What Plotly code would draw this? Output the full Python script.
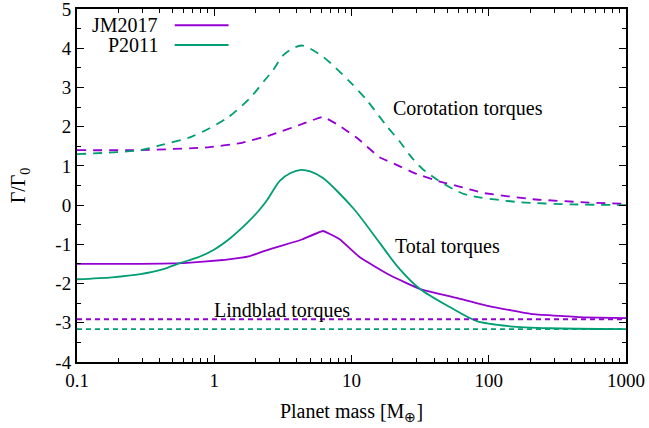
import numpy as np
import plotly.graph_objects as go

PURPLE = "#9400D3"
GREEN = "#009E73"
FONT = "Liberation Serif"

# Corotation torques (dashed)
jm_corot_m = [0.1, 0.29, 0.885, 1.54, 2.55, 4.4, 6.2, 8.2, 11.0, 16.0, 21.5, 30.0, 44.0, 60.0, 91.0, 210.0, 500.0, 1000.0]
jm_corot_g = [1.40, 1.40, 1.47, 1.58, 1.78, 2.07, 2.25, 2.02, 1.71, 1.22, 1.02, 0.79, 0.60, 0.48, 0.31, 0.15, 0.07, 0.03]

p_corot_m = [0.1, 0.29, 0.4, 0.70, 1.24, 1.82, 2.34, 2.68, 3.2, 4.3, 6.2, 9.75, 12.9, 18.3, 22.6, 26.5, 32.5, 42.4, 55.0, 69.5, 161.0, 400.0, 1000.0]
p_corot_g = [1.30, 1.40, 1.52, 1.76, 2.22, 2.73, 3.19, 3.44, 3.83, 4.07, 3.78, 3.14, 2.68, 1.99, 1.61, 1.28, 0.94, 0.64, 0.41, 0.26, 0.08, 0.02, 0.0]

# Total torques (solid)
jm_total_m = [0.1, 0.29, 0.6, 1.16, 1.82, 2.55, 3.2, 4.4, 6.2, 8.2, 11.5, 19.1, 31.6, 59.0, 102.0, 210.0, 500.0, 1000.0]
jm_total_g = [-1.50, -1.50, -1.48, -1.40, -1.30, -1.12, -1.02, -0.87, -0.66, -0.87, -1.33, -1.79, -2.14, -2.37, -2.58, -2.78, -2.86, -2.88]

p_total_m = [0.1, 0.18, 0.29, 0.42, 0.56, 0.75, 0.98, 1.3, 1.73, 2.1, 2.43, 3.0, 3.6, 4.3, 5.0, 6.2, 10.3, 16.1, 21.8, 31.6, 52.0, 82.0, 143.0, 279.0, 1000.0]
p_total_g = [-1.89, -1.84, -1.76, -1.64, -1.48, -1.34, -1.15, -0.85, -0.46, -0.15, 0.13, 0.62, 0.82, 0.90, 0.86, 0.69, -0.08, -0.97, -1.58, -2.14, -2.60, -2.96, -3.09, -3.14, -3.16]

# Lindblad torques (dotted)
lind_m = [0.1, 1000.0]
jm_lind_g = [-2.91, -2.91]
p_lind_g = [-3.16, -3.16]

x_tickvals = [0.1, 1, 10, 100, 1000]
x_ticktext = ["0.1", "1", "10", "100", "1000"]
y_tickvals = [5, 4, 3, 2, 1, 0, -1, -2, -3, -4]
y_ticktext = ["5", "4", "3", "2", "1", "0", "-1", "-2", "-3", "-4"]

minor_x = [k * 10.0 ** e for e in range(-1, 3) for k in range(2, 10)]
minor_y = [v + 0.5 for v in range(-4, 5)]

fig = go.Figure()
lw = 1.8
dash_d = "9px,7px"
dash_o = "5px,4px"
fig.add_trace(go.Scatter(x=jm_corot_m, y=jm_corot_g, mode="lines", line=dict(color=PURPLE, width=lw, dash=dash_d, shape="spline", smoothing=0.3), showlegend=False))
fig.add_trace(go.Scatter(x=p_corot_m, y=p_corot_g, mode="lines", line=dict(color=GREEN, width=lw, dash=dash_d, shape="spline", smoothing=0.8), showlegend=False))
fig.add_trace(go.Scatter(x=jm_total_m, y=jm_total_g, mode="lines", line=dict(color=PURPLE, width=lw, shape="spline", smoothing=0.3), showlegend=False))
fig.add_trace(go.Scatter(x=p_total_m, y=p_total_g, mode="lines", line=dict(color=GREEN, width=lw, shape="spline", smoothing=0.8), showlegend=False))
fig.add_trace(go.Scatter(x=lind_m, y=jm_lind_g, mode="lines", line=dict(color=PURPLE, width=lw, dash=dash_o), showlegend=False))
fig.add_trace(go.Scatter(x=lind_m, y=p_lind_g, mode="lines", line=dict(color=GREEN, width=lw, dash=dash_o), showlegend=False))

axis_common = dict(
    showline=True, linecolor="black", linewidth=2, mirror="ticks",
    ticks="inside", ticklen=7, tickwidth=1, tickcolor="black",
    showgrid=False, zeroline=False, automargin=False, ticklabeloverflow="allow",
    tickfont=dict(family=FONT, size=19, color="black"),
)

fig.update_xaxes(
    type="log", range=[-1, 3], tickmode="array", tickvals=x_tickvals, ticktext=x_ticktext,
    minor=dict(tickmode="array", tickvals=minor_x, ticks="inside", ticklen=4, tickcolor="black", tickwidth=1),
    title=dict(text="Planet mass [M<sub>⊕</sub>]", font=dict(family=FONT, size=20, color="black"), standoff=14),
    **axis_common,
)
fig.update_yaxes(
    range=[-4, 5], tickmode="array", tickvals=y_tickvals, ticktext=y_ticktext,
    minor=dict(tickmode="array", tickvals=minor_y, ticks="inside", ticklen=4, tickcolor="black", tickwidth=1),
    title=dict(text="Γ/Γ<sub>0</sub>", font=dict(family=FONT, size=20, color="black"), standoff=24),
    **axis_common,
)

ann_font = dict(family=FONT, size=20, color="black")
annotations = [
    dict(x=np.log10(70.6), y=2.47, xref="x", yref="y", text="Corotation torques", showarrow=False, font=ann_font),
    dict(x=np.log10(49.7), y=-1.05, xref="x", yref="y", text="Total torques", showarrow=False, font=ann_font),
    dict(x=np.log10(3.12), y=-2.68, xref="x", yref="y", text="Lindblad torques", showarrow=False, font=ann_font),
]
# legend (text right, sample line to the right as in the original)
leg_names = ["JM2017", "P2011"]
leg_colors = [PURPLE, GREEN]
leg_y = [0.954, 0.898]
shapes = []
for name, col, yy in zip(leg_names, leg_colors, leg_y):
    annotations.append(dict(x=0.152, y=yy, xref="paper", yref="paper", text=name, showarrow=False,
                            xanchor="right", yanchor="middle", font=ann_font))
    shapes.append(dict(type="line", xref="paper", yref="paper", x0=0.178, x1=0.276, y0=yy, y1=yy,
                       line=dict(color=col, width=lw)))

fig.update_layout(
    width=649, height=428,
    margin=dict(l=77, r=23, t=9, b=66, autoexpand=False),
    paper_bgcolor="white", plot_bgcolor="white",
    annotations=annotations, shapes=shapes,
    showlegend=False,
    font=dict(family=FONT, size=19, color="black"),
)

fig.write_html("out.html", config={"displayModeBar": False},
               post_script="document.body.style.margin='0';document.body.style.padding='0';")
